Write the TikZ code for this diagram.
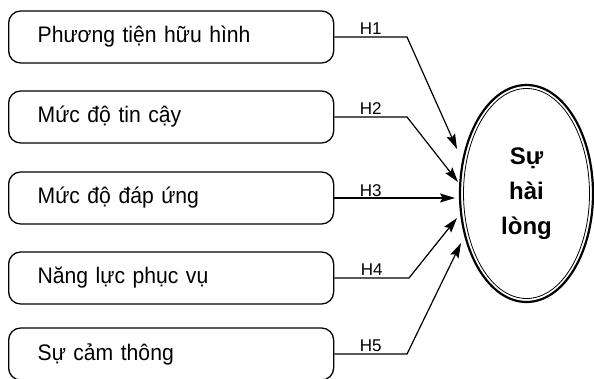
\documentclass[tikz,border=0pt]{standalone}
\usepackage{fontspec}
\setmainfont{Liberation Sans}
\newfontfamily\factorfont[FakeStretch=0.94]{Liberation Sans}
\usetikzlibrary{arrows.meta,shapes.geometric}
\begin{document}
\begin{tikzpicture}[x=1pt,y=-1pt,
  factor/.style={draw, line width=1.3pt, rounded corners=12pt,
    text width=267pt, align=left, inner xsep=29pt, inner ysep=0pt,
    minimum height=52pt, anchor=west,
    font=\factorfont\fontsize{22.5}{26}\selectfont},
  link/.style={line width=1.2pt},
  arr/.style={link, -{Stealth[length=15pt,width=9pt,inset=2.5pt]}},
  hlabel/.style={midway, above, inner sep=1.5pt,
    font=\fontsize{17}{20}\selectfont}]
\useasboundingbox (0,0) rectangle (594,379);

% the five service-quality factors
\node[factor] (b1) at (8,37)  {Phương tiện hữu hình};
\node[factor] (b2) at (8,117) {Mức độ tin cậy};
\node[factor] (b3) at (8,198) {Mức độ đáp ứng};
\node[factor] (b4) at (8,278) {Năng lực phục vụ};
\node[factor] (b5) at (8,354) {Sự cảm thông};

% satisfaction
\node[draw, ellipse, line width=2.2pt, minimum width=133pt, minimum height=217pt,
  inner sep=0pt, align=center,
  font=\fontsize{24}{35}\selectfont\bfseries] (s) at (526.5,193.5) {Sự\\hài\\lòng};
\draw[line width=0.8pt] (s.center) ellipse [x radius=63pt, y radius=105pt];

% bends and arrow tips
\coordinate (k1) at (407,37);
\coordinate (k2) at (407,117);
\coordinate (k4) at (409,278);
\coordinate (k5) at (407,354);
\coordinate (t1) at (457,149);
\coordinate (t2) at (458,182);
\coordinate (t3) at (455,198);
\coordinate (t4) at (457,218);
\coordinate (t5) at (461,243);

% hypotheses
\draw[arr] (b1.east) -- (k1) node[hlabel] {H1} -- (t1);
\draw[arr] (b2.east) -- (k2) node[hlabel] {H2} -- (t2);
\draw[arr] (b3.east) -- (t3);
\path (b3.east) -- (k2 |- b3.east) node[hlabel] {H3};
\draw[arr] (b4.east) -- (k4) node[hlabel] {H4} -- (t4);
\draw[arr] (b5.east) -- (k5) node[hlabel] {H5} -- (t5);
\end{tikzpicture}
\end{document}
